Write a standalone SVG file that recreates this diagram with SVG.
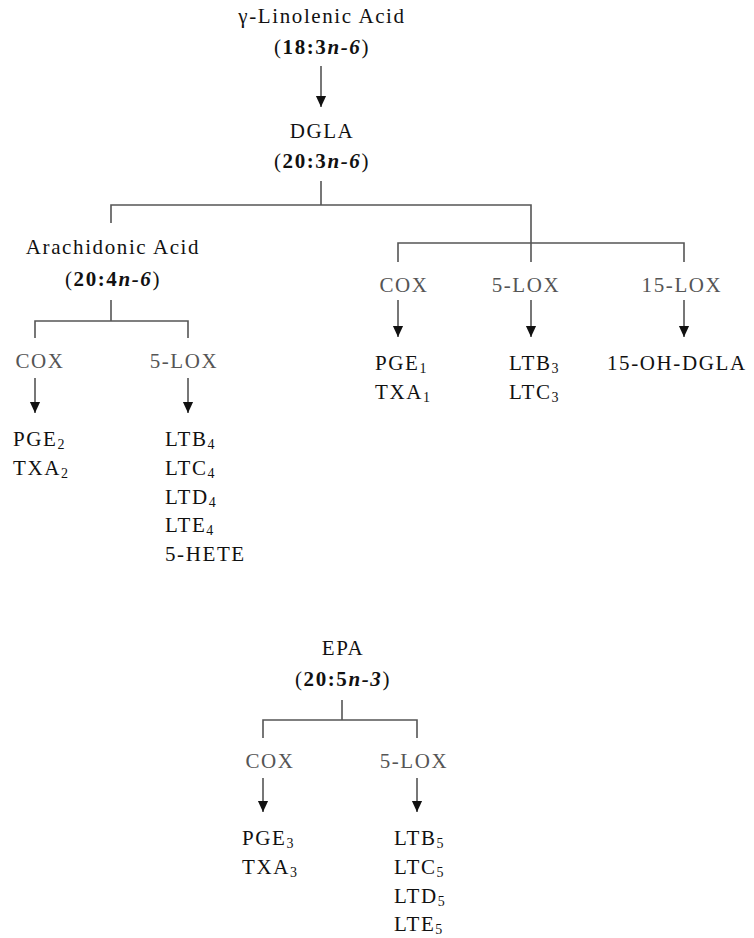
<svg xmlns="http://www.w3.org/2000/svg" width="754" height="938" viewBox="0 0 754 938" font-family="'Liberation Serif', 'Times New Roman', 'DejaVu Serif', serif">
<defs>
<style>
text{font-family:'Liberation Serif','Times New Roman','DejaVu Serif',serif;font-size:21px;letter-spacing:1.6px;fill:#111}
.c{text-anchor:middle}
.enz{fill:#555;text-anchor:middle}
.b{font-weight:bold}
.bi{font-weight:bold;font-style:italic}
.s{font-size:14px;letter-spacing:0}
.ln{stroke:#555;stroke-width:1.6;fill:none}
</style>
<marker id="ad" markerUnits="userSpaceOnUse" markerWidth="12" markerHeight="14" refX="13" refY="6" orient="auto" viewBox="0 0 14 12">
<path d="M0,0 L13,6 L0,12 Z" fill="#111"/>
</marker>
</defs>
<rect width="754" height="938" fill="#fff"/>

<g id="connectors">
<line class="ln" x1="321" y1="66" x2="321" y2="107" marker-end="url(#ad)"/>
<polyline class="ln" points="321,181 321,205"/>
<polyline class="ln" points="111,223 111,205 531,205 531,262"/>
<polyline class="ln" points="398,262 398,243 684,243 684,262"/>
<polyline class="ln" points="111,300 111,321"/>
<polyline class="ln" points="35,338 35,321 188,321 188,338"/>
<line class="ln" x1="35" y1="378" x2="35" y2="413" marker-end="url(#ad)"/>
<line class="ln" x1="188" y1="378" x2="188" y2="413" marker-end="url(#ad)"/>
<line class="ln" x1="398" y1="300" x2="398" y2="337" marker-end="url(#ad)"/>
<line class="ln" x1="531" y1="300" x2="531" y2="337" marker-end="url(#ad)"/>
<line class="ln" x1="684" y1="300" x2="684" y2="337" marker-end="url(#ad)"/>
<polyline class="ln" points="342,700 342,720"/>
<polyline class="ln" points="263,738 263,720 417,720 417,738"/>
<line class="ln" x1="263" y1="778" x2="263" y2="812" marker-end="url(#ad)"/>
<line class="ln" x1="417" y1="778" x2="417" y2="812" marker-end="url(#ad)"/>
</g>

<g id="gla">
<text class="c" x="322" y="23">γ-Linolenic Acid</text>
<text class="c" x="322" y="54">(<tspan class="b">18:3</tspan><tspan class="bi">n-6</tspan>)</text>
</g>
<g id="dgla">
<text class="c" x="322" y="138">DGLA</text>
<text class="c" x="322" y="168">(<tspan class="b">20:3</tspan><tspan class="bi">n-6</tspan>)</text>
</g>
<g id="aa">
<text class="c" x="113" y="254">Arachidonic Acid</text>
<text class="c" x="113" y="286">(<tspan class="b">20:4</tspan><tspan class="bi">n-6</tspan>)</text>
</g>

<g id="aa-cox"><text class="enz" x="40" y="368">COX</text></g>
<g id="aa-5lox"><text class="enz" x="184" y="368">5-LOX</text></g>
<g id="aa-cox-products">
<text x="13" y="446">PGE<tspan class="s" dy="3">2</tspan></text>
<text x="13" y="475">TXA<tspan class="s" dy="3">2</tspan></text>
</g>
<g id="aa-5lox-products">
<text x="165" y="446">LTB<tspan class="s" dy="3">4</tspan></text>
<text x="165" y="475">LTC<tspan class="s" dy="3">4</tspan></text>
<text x="165" y="504">LTD<tspan class="s" dy="3">4</tspan></text>
<text x="165" y="532">LTE<tspan class="s" dy="3">4</tspan></text>
<text x="165" y="561">5-HETE</text>
</g>

<g id="dgla-cox"><text class="enz" x="404" y="292">COX</text></g>
<g id="dgla-5lox"><text class="enz" x="526" y="292">5-LOX</text></g>
<g id="dgla-15lox"><text class="enz" x="682" y="292">15-LOX</text></g>
<g id="dgla-cox-products">
<text x="375" y="370">PGE<tspan class="s" dy="3">1</tspan></text>
<text x="375" y="399">TXA<tspan class="s" dy="3">1</tspan></text>
</g>
<g id="dgla-5lox-products">
<text x="509" y="370">LTB<tspan class="s" dy="3">3</tspan></text>
<text x="509" y="399">LTC<tspan class="s" dy="3">3</tspan></text>
</g>
<g id="dgla-15lox-products">
<text x="607" y="370">15-OH-DGLA</text>
</g>

<g id="epa">
<text class="c" x="343" y="655">EPA</text>
<text class="c" x="343" y="686">(<tspan class="b">20:5</tspan><tspan class="bi">n-3</tspan>)</text>
</g>
<g id="epa-cox"><text class="enz" x="270" y="768">COX</text></g>
<g id="epa-5lox"><text class="enz" x="414" y="768">5-LOX</text></g>
<g id="epa-cox-products">
<text x="242" y="845">PGE<tspan class="s" dy="3">3</tspan></text>
<text x="242" y="874">TXA<tspan class="s" dy="3">3</tspan></text>
</g>
<g id="epa-5lox-products">
<text x="394" y="845">LTB<tspan class="s" dy="3">5</tspan></text>
<text x="394" y="874">LTC<tspan class="s" dy="3">5</tspan></text>
<text x="394" y="903">LTD<tspan class="s" dy="3">5</tspan></text>
<text x="394" y="931">LTE<tspan class="s" dy="3">5</tspan></text>
</g>
</svg>
